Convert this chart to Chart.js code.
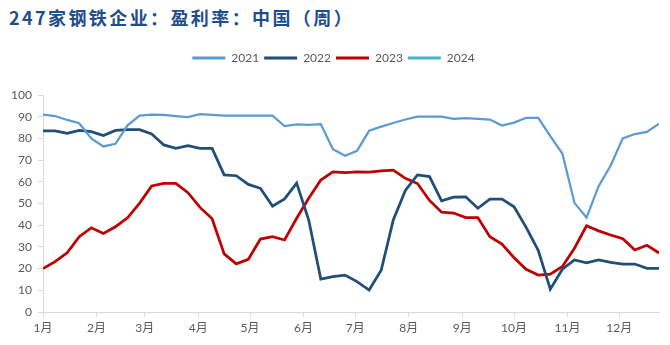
<!DOCTYPE html>
<html lang="zh-CN">
<head>
<meta charset="utf-8">
<title>247家钢铁企业：盈利率：中国（周）</title>
<script src="https://cdn.jsdelivr.net/npm/chart.js@4.4.1/dist/chart.umd.min.js"></script>
<style>
  body { margin: 0; background: #fff; }
  #wrap { position: relative; width: 670px; height: 345px; }
  #titulo {
    position: absolute; left: 9px; top: 5px;
    font: bold 18px "Noto Sans CJK SC", sans-serif;
    line-height: 24px; letter-spacing: 2.4px;
    color: #1f4e8d; white-space: nowrap;
  }
  canvas { position: absolute; left: 0; top: 0; }
</style>
</head>
<body>
<div id="wrap">
  <div id="titulo">247家钢铁企业：盈利率：中国（周）</div>
  <canvas id="graficoRentabilidad" width="670" height="345"></canvas>
</div>
<script>
// Etiquetas del eje X y día del año en que empieza cada mes
const meses = ['1月', '2月', '3月', '4月', '5月', '6月', '7月', '8月', '9月', '10月', '11月', '12月'];
const inicioMes = [0, 31, 59, 90, 120, 151, 181, 212, 243, 273, 304, 334];

// Series semanales (%), una por año
const anios = ['2021', '2022', '2023', '2024'];
const datos2021 = [91, 90.3, 88.5, 87, 80, 76.3, 77.5, 86, 90.5, 91, 90.8, 90.3, 89.8, 91.2, 90.8, 90.5,
  90.5, 90.5, 90.5, 90.5, 85.7, 86.5, 86.2, 86.6, 75, 72, 74.3, 83.5, 85.4, 87.1, 88.7, 90, 90, 90, 89,
  89.3, 89, 88.7, 85.9, 87.3, 89.5, 89.5, 81, 73, 50.3, 43.5, 58, 67.5, 80, 82, 83, 86.8];
const datos2022 = [83.5, 83.5, 82.3, 83.7, 83.1, 81.3, 83.7, 84, 84, 82, 77, 75.4, 76.6, 75.4, 75.4, 63.2,
  62.8, 58.8, 57, 48.8, 52.1, 59.4, 42.4, 15.2, 16.3, 17, 14, 10.1, 19.2, 42.4, 56, 63.2, 62.4, 51.2, 52.9,
  53.1, 47.8, 52, 52, 48.5, 39, 28.4, 10.5, 19.7, 24, 22.7, 24, 22.9, 22.1, 22.1, 20.1, 20.1];
const datos2023 = [20, 23.2, 27.3, 34.7, 38.8, 36.2, 39.3, 43.4, 50.2, 58.1, 59.3, 59.3, 55, 48.2, 43, 26.8,
  22.2, 24.3, 33.6, 34.7, 33.2, 43.2, 52.4, 60.8, 64.6, 64.2, 64.6, 64.5, 65, 65.4, 61.6, 59.2, 51.4, 46,
  45.6, 43.5, 43.5, 34.7, 31.3, 25, 19.7, 17, 17.4, 21, 29.4, 39.7, 37.4, 35.5, 33.8, 28.6, 30.8, 27.2];
const datos2024 = [];

const colores = ['#5b9bd5', '#1f4e79', '#c00000', '#45b5c8'];
const grosores = [2.25, 2.75, 2.75, 2.75];

// Cada punto se coloca en su semana (7 días por punto)
const aPuntos = serie => serie.map((v, i) => ({ x: i * 7, y: v }));
const series = [datos2021, datos2022, datos2023, datos2024];

const fuente = 'Lato, "Noto Sans CJK SC", sans-serif';
const gris = '#d9d9d9';

// Separación extra entre la leyenda y el área del gráfico
const espacioLeyenda = {
  id: 'espacioLeyenda',
  beforeInit(chart) {
    const fitOriginal = chart.legend.fit;
    chart.legend.fit = function () {
      fitOriginal.bind(chart.legend)();
      this.height += 21;
    };
  }
};

const ctx = document.getElementById('graficoRentabilidad').getContext('2d');
const graficoRentabilidad = new Chart(ctx, {
  type: 'line',
  data: {
    datasets: anios.map((anio, k) => ({
      label: anio,
      data: aPuntos(series[k]),
      borderColor: colores[k],
      backgroundColor: colores[k],
      borderWidth: grosores[k],
      pointRadius: 0,
      tension: 0,
      fill: false
    }))
  },
  options: {
    responsive: false,
    animation: false,
    layout: { padding: { left: 8, right: 11, top: 47, bottom: 0 } },
    plugins: {
      tooltip: { enabled: false },
      legend: {
        position: 'top',
        labels: {
          boxWidth: 33,
          boxHeight: 3,
          padding: 5,
          color: '#595959',
          font: { family: fuente, size: 12 },
          generateLabels(chart) {
            return Chart.defaults.plugins.legend.labels.generateLabels(chart)
              .map(item => Object.assign(item, { lineWidth: 0 }));
          }
        }
      }
    },
    scales: {
      x: {
        type: 'linear',
        min: 0,
        max: 357,
        afterBuildTicks(scale) {
          scale.ticks = inicioMes.map(v => ({ value: v }));
        },
        afterFit(scale) { scale.height = 33; },
        ticks: {
          autoSkip: false,
          maxRotation: 0,
          padding: 4,
          color: '#595959',
          font: { family: fuente, size: 12 },
          callback: (value, index) => meses[index]
        },
        grid: { drawOnChartArea: false, drawTicks: true, tickLength: 5, color: gris },
        border: { color: gris, width: 1 }
      },
      y: {
        min: 0,
        max: 100,
        afterFit(scale) { scale.width = 35; },
        ticks: {
          stepSize: 10,
          padding: 6,
          color: '#595959',
          font: { family: fuente, size: 12 }
        },
        grid: { drawOnChartArea: false, drawTicks: true, tickLength: 5, color: gris },
        border: { color: gris, width: 1 }
      }
    }
  },
  plugins: [espacioLeyenda]
});
</script>
</body>
</html>
